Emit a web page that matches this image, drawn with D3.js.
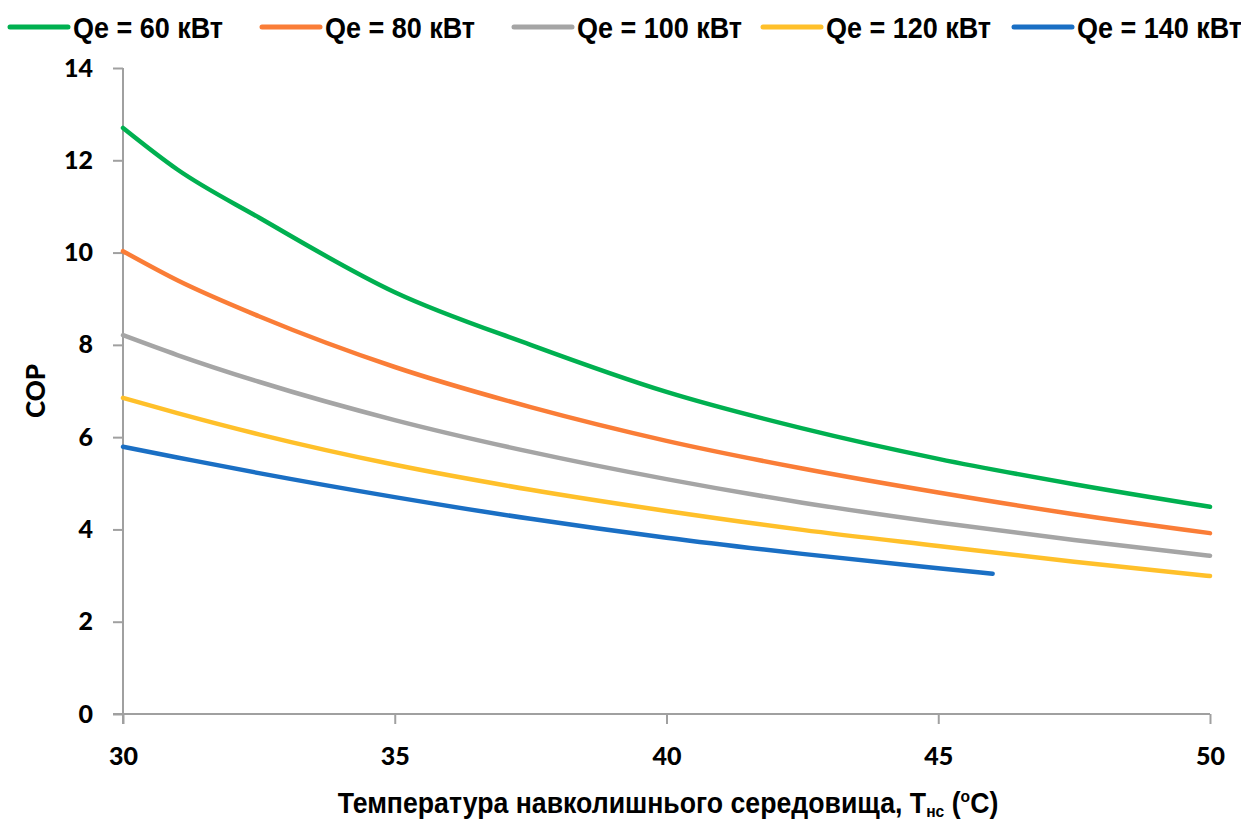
<!DOCTYPE html>
<html>
<head>
<meta charset="utf-8">
<script src="https://cdn.jsdelivr.net/npm/d3@7"></script>
<style>
  body { margin: 0; background: #fff; }
  svg { display: block; }
</style>
</head>
<body>
<div id="chart"></div>
<script>
// ambient temperature, degC
const temps = [30, 31, 32.5, 35, 37.5, 40, 42.5, 45, 47.5, 50];
const tempsShort = [30, 31, 32.5, 35, 37.5, 40, 42.5, 45, 46];

const cop60 = [12.70, 11.80, 10.76, 9.14, 8.00, 6.98, 6.19, 5.53, 4.98, 4.49];
const cop80 = [10.03, 9.40, 8.62, 7.52, 6.65, 5.92, 5.32, 4.80, 4.33, 3.92];
const cop100 = [8.21, 7.78, 7.20, 6.37, 5.68, 5.09, 4.58, 4.15, 3.77, 3.43];
const cop120 = [6.85, 6.52, 6.06, 5.40, 4.86, 4.40, 3.99, 3.64, 3.30, 2.99];
const cop140 = [5.79, 5.56, 5.22, 4.70, 4.23, 3.82, 3.47, 3.16, 3.04];

const seriesNames = ["Qe = 60 кВт", "Qe = 80 кВт", "Qe = 100 кВт", "Qe = 120 кВт", "Qe = 140 кВт"];
const colors = ["#00b050", "#fa7d37", "#a5a5a5", "#ffc02a", "#1a6fc4"];

const xTicks = [30, 35, 40, 45, 50];
const yTicks = [0, 2, 4, 6, 8, 10, 12, 14];

const series = [
  { name: seriesNames[0], color: colors[0], x: temps, y: cop60 },
  { name: seriesNames[1], color: colors[1], x: temps, y: cop80 },
  { name: seriesNames[2], color: colors[2], x: temps, y: cop100 },
  { name: seriesNames[3], color: colors[3], x: temps, y: cop120 },
  { name: seriesNames[4], color: colors[4], x: tempsShort, y: cop140 }
];

const width = 1241, height = 823;
const margin = { top: 68, right: 31, bottom: 109, left: 123 };

const svg = d3.select("#chart").append("svg")
  .attr("width", width)
  .attr("height", height);

const x = d3.scaleLinear().domain([30, 50]).range([margin.left, width - margin.right]);
const y = d3.scaleLinear().domain([0, 14]).range([height - margin.bottom, margin.top]);

const axisColor = "#a0a0a0";
const tickFont = "Lato, 'Liberation Sans', sans-serif";
const textFont = "'Liberation Sans', Arial, sans-serif";

// y axis
const yAxis = svg.append("g")
  .attr("transform", `translate(${margin.left},0)`)
  .call(d3.axisLeft(y).tickValues(yTicks).tickSize(10).tickPadding(20).tickFormat(d3.format("d")));
yAxis.selectAll("line").attr("stroke", axisColor).attr("stroke-width", 2);
yAxis.select(".domain").attr("stroke", axisColor).attr("stroke-width", 2).attr("d", `M0,${y(14)}V${y(0) + 10}`);
yAxis.selectAll("text")
  .style("font-family", tickFont).style("font-weight", "900").style("font-size", "25px").attr("fill", "#000");

// x axis
const xAxis = svg.append("g")
  .attr("transform", `translate(0,${y(0)})`)
  .call(d3.axisBottom(x).tickValues(xTicks).tickSize(10).tickPadding(23).tickFormat(d3.format("d")));
xAxis.selectAll("line").attr("stroke", axisColor).attr("stroke-width", 2);
xAxis.select(".domain").attr("stroke", axisColor).attr("stroke-width", 2).attr("d", `M${x(30) - 10},0H${x(50)}`);
xAxis.selectAll("text")
  .style("font-family", tickFont).style("font-weight", "900").style("font-size", "25px").attr("fill", "#000");

// curves
const line = d3.line()
  .x(d => x(d[0]))
  .y(d => y(d[1]))
  .curve(d3.curveMonotoneX);

svg.append("g").selectAll("path")
  .data(series)
  .join("path")
  .attr("fill", "none")
  .attr("stroke", d => d.color)
  .attr("stroke-width", 4.5)
  .attr("stroke-linecap", "round")
  .attr("d", d => line(d.x.map((t, i) => [t, d.y[i]])));

// axis titles
svg.append("text")
  .attr("transform", `translate(45,${(y(0) + y(14)) / 2}) rotate(-90)`)
  .attr("text-anchor", "middle")
  .style("font-family", tickFont).style("font-weight", "900").style("font-size", "26px")
  .text("COP");

const xTitle = svg.append("text")
  .attr("transform", "translate(668,813) scale(0.92,1)")
  .attr("text-anchor", "middle")
  .style("font-family", textFont)
  .style("font-weight", "bold")
  .style("font-size", "29px");
xTitle.append("tspan").text("Температура навколишнього середовища, Т");
xTitle.append("tspan").attr("dy", 4).style("font-size", "17px").text("нс");
xTitle.append("tspan").attr("dy", -4).text(" (");
xTitle.append("tspan").attr("dy", -11).style("font-size", "17px").text("o");
xTitle.append("tspan").attr("dy", 11).text("C)");

// legend
const legendX = [10, 262, 514, 763, 1014];
const legend = svg.append("g").selectAll("g")
  .data(series)
  .join("g")
  .attr("transform", (d, i) => `translate(${legendX[i]},27)`);
legend.append("line")
  .attr("x1", 0).attr("x2", 58)
  .attr("stroke", d => d.color)
  .attr("stroke-width", 5)
  .attr("stroke-linecap", "round");
legend.append("text")
  .attr("transform", "translate(63,10.5) scale(0.9,1)")
  .style("font-family", textFont)
  .style("font-weight", "bold")
  .style("font-size", "30px")
  .text(d => d.name);
</script>
</body>
</html>
